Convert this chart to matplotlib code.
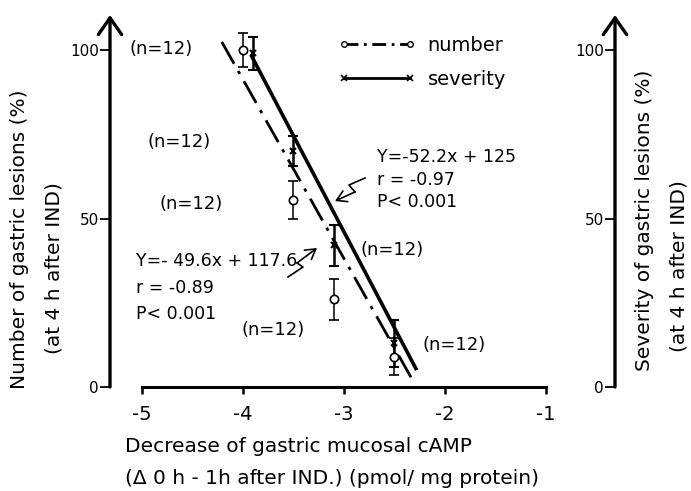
import matplotlib
matplotlib.use("Agg")
import matplotlib.pyplot as plt
from matplotlib.lines import Line2D

plt.rcParams["font.family"] = "DejaVu Sans"
plt.rcParams["axes.unicode_minus"] = False

# data
num_x = [-4.0, -3.5, -3.1, -2.5]
num_y = [100, 55.5, 26, 9]
num_err = [5, 5.5, 6, 5.5]

sev_x = [-3.9, -3.5, -3.1, -2.5]
sev_y = [99, 70, 42, 13]
sev_err = [5, 4.5, 6, 7]

# regression lines, end points as drawn
num_fit_x = [-4.21, -2.32]
num_fit_y = [102.4, 2.0]
sev_fit_x = [-3.92, -2.28]
sev_fit_y = [98.5, 5.0]

x_ticks = [-5, -4, -3, -2, -1]
y_ticks = [0, 50, 100]

W, H = 691, 491
fig = plt.figure(figsize=(W / 100, H / 100), dpi=100)


def fx(px):
    return px / W


def fy(py):
    return 1 - py / H


ax = fig.add_axes([fx(110), fy(387), fx(560) - fx(110), fy(15) - fy(387)])
ax.set_xlim(-5.317, -0.861)
ax.set_ylim(0, 110.4)
for s in ["top", "right", "left"]:
    ax.spines[s].set_visible(False)
ax.spines["bottom"].set_bounds(-5, -1)
ax.spines["bottom"].set_linewidth(2.2)
ax.set_xticks(x_ticks)
ax.set_xticklabels([str(v) for v in x_ticks])
ax.set_yticks(y_ticks)
ax.set_yticklabels([str(v) for v in y_ticks])
ax.tick_params(axis="x", direction="out", length=5, width=1.8, pad=8, labelsize=14)
ax.tick_params(axis="y", direction="out", length=7, width=1.3, pad=1, labelsize=11)

arrow = dict(arrowstyle="->,head_length=0.6,head_width=0.42", lw=2.4,
             color="black", mutation_scale=20, shrinkA=0, shrinkB=0)
ax.annotate("", xy=(0, 1), xytext=(0, 0), xycoords="axes fraction",
            arrowprops=arrow)

# fitted lines
ax.plot(num_fit_x, num_fit_y, color="black", lw=2.0,
        dashes=(9, 3, 1.2, 3))
ax.plot(sev_fit_x, sev_fit_y, color="black", lw=2.6, solid_capstyle="butt")

# data with error bars
ax.errorbar(num_x, num_y, yerr=num_err, fmt="o", ms=6, mfc="white",
            mec="black", mew=1.2, ecolor="black", elinewidth=1.1,
            capsize=3.5, capthick=1.1, zorder=4)
ax.errorbar(sev_x, sev_y, yerr=sev_err, fmt="x", ms=5, color="black",
            mew=1.5, elinewidth=1.8, capsize=3.5, capthick=1.8, zorder=4)

# legend
handles = [
    Line2D([], [], color="black", lw=2.0, dashes=(5, 2, 1, 2), marker="o",
           ms=4, mfc="white", mec="black"),
    Line2D([], [], color="black", lw=2.0, marker="x", ms=4, mew=1.2),
]
ax.legend(handles, ["number", "severity"], numpoints=2, frameon=False,
          loc="upper left", bbox_to_anchor=(fx(338), fy(36)),
          bbox_transform=fig.transFigure, borderpad=0, borderaxespad=0,
          handlelength=4.0, handletextpad=0.6, labelspacing=0.75,
          fontsize=14)

# right axis
ax2 = fig.add_axes([fx(615), fy(387), 0.001, fy(15) - fy(387)])
ax2.set_ylim(0, 110.4)
ax2.set_xticks([])
for s in ["top", "right", "left", "bottom"]:
    ax2.spines[s].set_visible(False)
ax2.set_yticks(y_ticks)
ax2.set_yticklabels([str(v) for v in y_ticks])
ax2.tick_params(axis="y", direction="out", length=7, width=1.3, pad=1, labelsize=11)
ax2.annotate("", xy=(0, 1), xytext=(0, 0), xycoords="axes fraction",
             arrowprops=arrow)

# n labels
n_pos = [(161, 49), (179, 142), (191, 204), (392, 250), (273, 330), (454, 345)]
for px, py in n_pos:
    fig.text(fx(px), fy(py), "(n=12)", fontsize=13, ha="center", va="center")

# equations
eq_fs = 12.5
fig.text(fx(377), fy(157), "Y=-52.2x + 125", fontsize=eq_fs, va="center")
fig.text(fx(377), fy(180), "r = -0.97", fontsize=eq_fs, va="center")
fig.text(fx(377), fy(202), "P< 0.001", fontsize=eq_fs, va="center")

fig.text(fx(136), fy(261), "Y=- 49.6x + 117.6", fontsize=eq_fs, va="center")
fig.text(fx(136), fy(288), "r = -0.89", fontsize=eq_fs, va="center")
fig.text(fx(136), fy(314), "P< 0.001", fontsize=eq_fs, va="center")

# squiggle arrows pointing at the lines
sq1 = [(365, 178), (349, 185), (355, 192)]
fig.add_artist(Line2D([fx(p[0]) for p in sq1], [fy(p[1]) for p in sq1],
                      color="black", lw=1.2, transform=fig.transFigure))
fig.add_artist(matplotlib.patches.FancyArrowPatch(
    (fx(355), fy(192)), (fx(335), fy(201)), transform=fig.transFigure,
    arrowstyle="->,head_length=0.5,head_width=0.3", mutation_scale=14,
    lw=1.2, color="black", shrinkA=0, shrinkB=0))
sq2 = [(288, 277), (303, 267), (297, 263)]
fig.add_artist(Line2D([fx(p[0]) for p in sq2], [fy(p[1]) for p in sq2],
                      color="black", lw=1.2, transform=fig.transFigure))
fig.add_artist(matplotlib.patches.FancyArrowPatch(
    (fx(297), fy(263)), (fx(317), fy(248)), transform=fig.transFigure,
    arrowstyle="->,head_length=0.5,head_width=0.3", mutation_scale=14,
    lw=1.2, color="black", shrinkA=0, shrinkB=0))

# axis titles
lab_fs = 14.5
fig.text(fx(20), fy(239), "Number of gastric lesions (%)", rotation=90,
         fontsize=lab_fs, ha="center", va="center")
fig.text(fx(54), fy(268), "(at 4 h after IND)", rotation=90,
         fontsize=lab_fs, ha="center", va="center")
fig.text(fx(645), fy(220), "Severity of gastric lesions (%)", rotation=90,
         fontsize=lab_fs, ha="center", va="center")
fig.text(fx(679), fy(266), "(at 4 h after IND)", rotation=90,
         fontsize=lab_fs, ha="center", va="center")
fig.text(fx(125), fy(447), "Decrease of gastric mucosal cAMP",
         fontsize=14.5, ha="left", va="center")
fig.text(fx(125), fy(478), "(\u0394 0 h - 1h after IND.) (pmol/ mg protein)",
         fontsize=14.5, ha="left", va="center")

fig.savefig("out.png", dpi=100)
